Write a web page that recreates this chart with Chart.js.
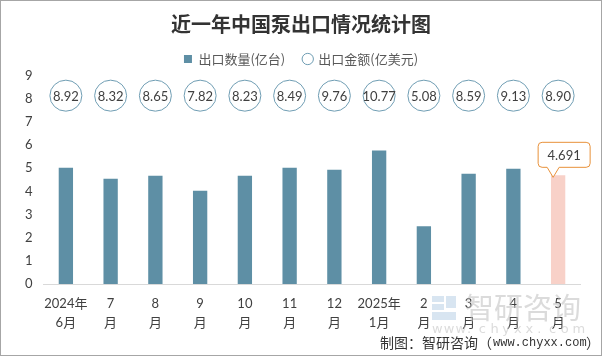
<!DOCTYPE html>
<html>
<head>
<meta charset="utf-8">
<script src="https://cdn.jsdelivr.net/npm/chart.js@4"></script>
<style>
html,body{margin:0;padding:0;background:#fff;}
#wrap{width:602px;height:356px;position:relative;}
</style>
</head>
<body>
<div id="wrap"><canvas id="c"></canvas></div>
<script>
const categories = [['2024年','6月'],['7','月'],['8','月'],['9','月'],['10','月'],['11','月'],['12','月'],['2025年','1月'],['2','月'],['3','月'],['4','月'],['5','月']];
const quantity = [5.02, 4.54, 4.67, 4.02, 4.67, 5.02, 4.93, 5.76, 2.49, 4.76, 4.98, 4.691];
const amount = [8.92, 8.32, 8.65, 7.82, 8.23, 8.49, 9.76, 10.77, 5.08, 8.59, 9.13, 8.90];
const seriesNames = ['出口数量(亿台)', '出口金额(亿美元)'];
const yMin = 0, yMax = 9, yStep = 1;
const titleText = '近一年中国泵出口情况统计图';
const sourcePrefix = '制图：智研咨询（';
const sourceUrl = 'www.chyxx.com';
const sourceSuffix = '）';
const calloutText = '4.691';

const BAR = '#5E8FA5', PINK = '#F8D1C8', RING = '#6F9DB3', TXT = '#404040';
const FONT = "Lato, 'Noto Sans CJK SC', sans-serif";

const extras = {
  id: 'extras',
  afterDatasetsDraw(chart) {
    const ctx = chart.ctx, xs = chart.scales.x, ys = chart.scales.y;
    ctx.save();
    const ringY = ys.getPixelForValue(8) - 3;
    amount.forEach((v, i) => {
      const x = xs.getPixelForValue(i);
      ctx.beginPath();
      ctx.ellipse(x, ringY, 16, 15.5, 0, 0, Math.PI * 2);
      ctx.fillStyle = '#fff'; ctx.fill();
      ctx.lineWidth = 1; ctx.strokeStyle = RING; ctx.stroke();
      ctx.fillStyle = TXT; ctx.font = "13px " + FONT;
      ctx.textAlign = 'center'; ctx.textBaseline = 'middle';
      ctx.fillText(v.toFixed(2), x, ringY + 1);
    });
    const li = quantity.length - 1;
    const meta = chart.getDatasetMeta(0).data[li];
    const bx = meta.x, by = meta.y;
    const tipX = bx - 5, tipY = by + 2;
    const l = bx - 20, r = bx + 32, t = tipY - 35, b = tipY - 10, rad = 4;
    ctx.beginPath();
    ctx.moveTo(l + rad, t);
    ctx.lineTo(r - rad, t); ctx.quadraticCurveTo(r, t, r, t + rad);
    ctx.lineTo(r, b - rad); ctx.quadraticCurveTo(r, b, r - rad, b);
    ctx.lineTo(tipX + 6, b); ctx.lineTo(tipX, tipY); ctx.lineTo(tipX - 6, b);
    ctx.lineTo(l + rad, b); ctx.quadraticCurveTo(l, b, l, b - rad);
    ctx.lineTo(l, t + rad); ctx.quadraticCurveTo(l, t, l + rad, t);
    ctx.closePath();
    ctx.fillStyle = '#fff'; ctx.fill();
    ctx.strokeStyle = '#E8913A'; ctx.lineWidth = 1; ctx.stroke();
    ctx.fillStyle = TXT; ctx.font = "13px " + FONT;
    ctx.textAlign = 'center'; ctx.textBaseline = 'middle';
    ctx.fillText(calloutText, (l + r) / 2, (t + b) / 2 + 1);
    ctx.restore();
  },
  afterDraw(chart) {
    const ctx = chart.ctx;
    ctx.save();
    // watermark
    ctx.globalAlpha = 0.55;
    ctx.fillStyle = '#B8CFE6';
    ctx.fillRect(432, 296, 12, 6);
    ctx.fillRect(446, 296, 10, 12);
    ctx.fillRect(432, 304, 12, 6);
    ctx.fillRect(432, 312, 24, 8);
    ctx.fillStyle = '#BDBDBD';
    ctx.font = "29px 'Noto Sans CJK SC', sans-serif";
    ctx.textAlign = 'left'; ctx.textBaseline = 'middle';
    ctx.fillText('智研咨询', 465, 308);
    ctx.font = "13px 'DejaVu Sans', sans-serif";
    const wm = 'www.chyxx.com';
    for (let i = 0; i < wm.length; i++) {
      ctx.fillText(wm[i], 432 + i * 11.7, 330);
    }
    ctx.globalAlpha = 1;
    // source
    ctx.fillStyle = '#333';
    ctx.textAlign = 'left'; ctx.textBaseline = 'middle';
    ctx.font = "14px 'Noto Sans CJK SC', sans-serif";
    ctx.fillText(sourcePrefix, 380, 343);
    ctx.font = "12px 'Liberation Mono', monospace";
    ctx.fillText(sourceUrl, 493, 343);
    ctx.font = "14px 'Noto Sans CJK SC', sans-serif";
    ctx.fillText(sourceSuffix, 586, 343);
    // border
    ctx.strokeStyle = '#A6A6A6'; ctx.lineWidth = 1;
    ctx.strokeRect(0.5, 0.5, 601, 355);
    ctx.restore();
  }
};

new Chart(document.getElementById('c'), {
  type: 'bar',
  data: {
    labels: categories,
    datasets: [
      {
        label: seriesNames[0],
        data: quantity,
        backgroundColor: quantity.map((v, i) => i === quantity.length - 1 ? PINK : BAR),
        categoryPercentage: 1,
        barPercentage: 0.32,
        yAxisID: 'y',
        order: 2
      },
      {
        type: 'line',
        label: seriesNames[1],
        data: amount,
        showLine: false,
        pointRadius: 0,
        pointHoverRadius: 0,
        borderColor: RING,
        backgroundColor: '#fff',
        yAxisID: 'y2',
        order: 1
      }
    ]
  },
  options: {
    responsive: true,
    maintainAspectRatio: false,
    animation: false,
    layout: { padding: { left: 0, right: 0, top: 0, bottom: 0 } },
    plugins: {
      tooltip: { enabled: false },
      title: {
        display: true,
        text: titleText,
        color: '#333',
        font: { size: 20, weight: 'bold', family: "'Noto Sans CJK SC', sans-serif", lineHeight: 1 },
        padding: { top: 14, bottom: 0 }
      },
      legend: {
        display: true,
        position: 'top',
        labels: {
          color: '#595959',
          font: { size: 13, family: "'Noto Sans CJK SC', sans-serif" },
          usePointStyle: true,
          boxWidth: 8,
          boxHeight: 8,
          padding: 18.5,
          generateLabels() {
            return [
              { text: seriesNames[0], fillStyle: BAR, strokeStyle: BAR, lineWidth: 0, pointStyle: 'rect', fontColor: '#595959', datasetIndex: 0 },
              { text: seriesNames[1], fillStyle: '#fff', strokeStyle: RING, lineWidth: 1, pointStyle: 'circle', fontColor: '#595959', datasetIndex: 1 }
            ];
          }
        }
      }
    },
    scales: {
      x: {
        grid: { display: false, drawTicks: false },
        border: { display: true, color: '#D9D9D9', width: 1 },
        ticks: {
          color: TXT,
          font: { size: 13, family: FONT, lineHeight: 1.5 },
          padding: 10,
          maxRotation: 0,
          autoSkip: false
        },
        afterFit(scale) { scale.height = 72; }
      },
      y: {
        min: yMin, max: yMax,
        grid: { display: false, drawTicks: false },
        border: { display: false },
        ticks: {
          stepSize: yStep,
          color: TXT,
          font: { size: 13, family: FONT },
          padding: 11
        },
        afterFit(scale) { scale.width = 43.5; }
      },
      y2: {
        display: true,
        position: 'right',
        min: 0, max: 12,
        grid: { display: false, drawTicks: false },
        border: { display: false },
        ticks: { display: false },
        afterFit(scale) { scale.width = 21.5; }
      }
    }
  },
  plugins: [extras]
});
</script>
</body>
</html>
